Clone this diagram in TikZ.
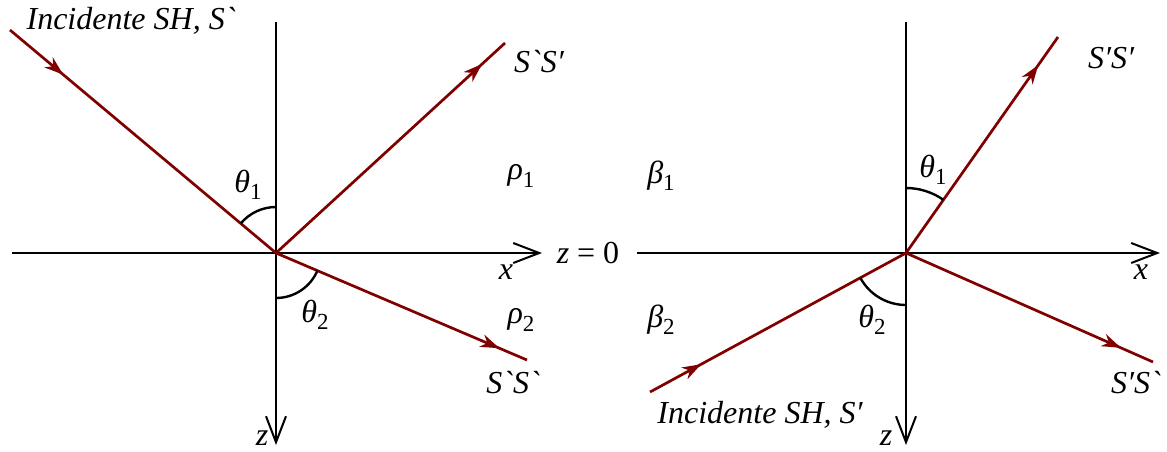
\documentclass[tikz,border=0pt]{standalone}
\usepackage{fontspec}
\setmainfont[Ligatures=TeXOff]{Liberation Serif}
\newfontfamily\tms[Ligatures=TeXOff,ItalicFont={Liberation Serif Italic}]{Liberation Serif}
\usetikzlibrary{arrows.meta,decorations.markings,angles}
\definecolor{ray}{HTML}{800000}
\newcommand\lowsub[1]{\raisebox{-0.22em}{\fontsize{23}{23}\selectfont #1}}
\begin{document}
\begin{tikzpicture}[x=1pt,y=-1pt,
  axis/.style={line width=2pt,-{Straight Barb[length=26pt,width=20pt,line width=2pt]}},
  rayline/.style={draw=ray,line width=2.7pt},
  mk/.style={postaction={decorate},decoration={markings,mark=at position #1 with {\arrow[ray]{Stealth[length=19pt,width=13pt,inset=6pt]}}}},
  ang/.style={draw,line width=2.4pt,angle radius=#1},
  lbl/.style={font=\tms\fontsize{32}{32}\selectfont\itshape,inner sep=0pt}]
\useasboundingbox (0,0) rectangle (1167,451);
% left
\coordinate (O1) at (276,253);
\coordinate (T1) at (276,22);
\coordinate (B1) at (276,445);
\coordinate (L1) at (12,253);
\coordinate (R1) at (542,253);
\coordinate (I1) at (10,30);
\coordinate (F1) at (505,43);
\coordinate (G1) at (527,360);
\draw[axis] (L1) -- (R1);
\draw[axis] (T1) -- (B1);
\draw[rayline,mk=0.2] (I1) -- (O1);
\draw[rayline,mk=0.9] (O1) -- (F1);
\draw[rayline,mk=0.89] (O1) -- (G1);
\pic[ang=46] {angle=T1--O1--I1};
\pic[ang=45] {angle=B1--O1--G1};
% right
\coordinate (O2) at (906,253);
\coordinate (T2) at (906,22);
\coordinate (B2) at (906,445);
\coordinate (L2) at (637,253);
\coordinate (R2) at (1160,253);
\coordinate (I2) at (650,392);
\coordinate (F2) at (1058,37);
\coordinate (G2) at (1153,362);
\draw[axis] (L2) -- (R2);
\draw[axis] (T2) -- (B2);
\draw[rayline,mk=0.2] (I2) -- (O2);
\draw[rayline,mk=0.87] (O2) -- (F2);
\draw[rayline,mk=0.87] (O2) -- (G2);
\pic[ang=65] {angle=F2--O2--T2};
\pic[ang=52] {angle=I2--O2--B2};
% labels
\node[lbl] (inc1) at (131,21) {Incidente SH, S`};
\node[lbl] (s11) at (539,62) {S`S′};
\node[lbl] (s12) at (513,383) {S`S`};
\node[lbl] (x1) at (506,272) {x};
\node[lbl] (z1) at (262,438) {z};
\node[lbl] (th1) at (248,185) {θ\lowsub{\upshape 1}};
\node[lbl] (th2) at (315,315) {θ\lowsub{\upshape 2}};
\node[lbl] (rho1) at (521,176) {ρ\lowsub{\upshape 1}};
\node[lbl] (rho2) at (521,320) {ρ\lowsub{\upshape 2}};
\node[lbl] (beta1) at (661,176) {β\lowsub{\upshape 1}};
\node[lbl] (beta2) at (661,320) {β\lowsub{\upshape 2}};
\node[lbl] (z0) at (588,253) {z \upshape= 0};
\node[lbl] (inc2) at (760,415) {Incidente SH, S′};
\node[lbl] (s21) at (1111,58) {S′S′};
\node[lbl] (s22) at (1136,383) {S′S`};
\node[lbl] (x2) at (1141,272) {x};
\node[lbl] (z2) at (886,438) {z};
\node[lbl] (th3) at (933,170) {θ\lowsub{\upshape 1}};
\node[lbl] (th4) at (872,320) {θ\lowsub{\upshape 2}};
\end{tikzpicture}
\end{document}
